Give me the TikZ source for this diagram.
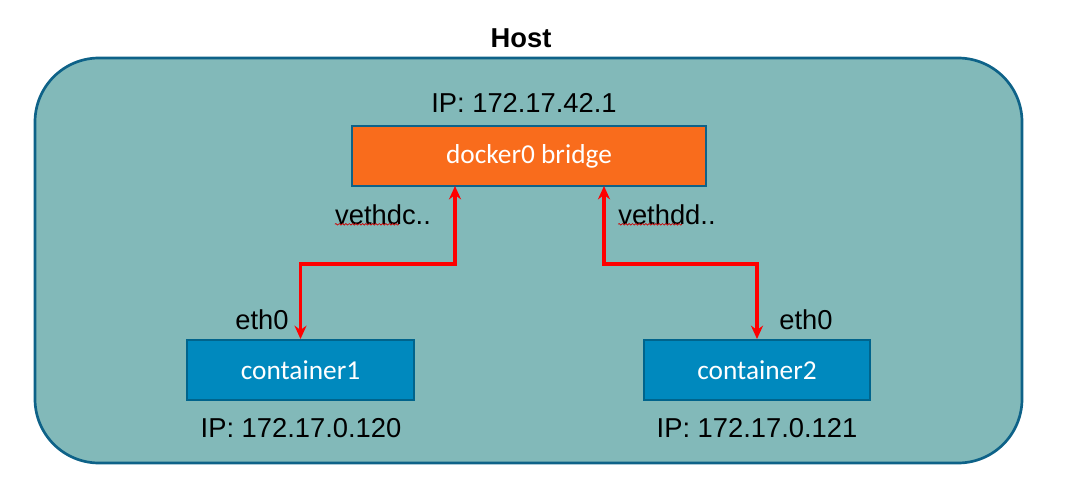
\documentclass[tikz,border=0pt]{standalone}
\usepackage{fontspec}
\setmainfont{Liberation Sans}
\newfontfamily\calfont{Carlito}
\usetikzlibrary{arrows.meta,decorations.pathmorphing}
\definecolor{hostfill}{RGB}{130,185,185}
\definecolor{hostline}{RGB}{14,98,136}
\definecolor{bridgefill}{RGB}{249,108,28}
\definecolor{boxfill}{RGB}{0,137,190}
\definecolor{boxline}{RGB}{0,100,140}
\tikzset{
  lbl/.style={font=\fontsize{20.5}{24}\selectfont,inner sep=0pt},
  netbox/.style={draw=boxline,line width=1.5pt,minimum width=170pt,minimum height=45pt,
    inner sep=0pt,text=white,font=\calfont\fontsize{20.5}{24}\selectfont},
  link/.style={draw=red,line width=2.6pt,{Stealth[length=10pt,width=9pt]}-{Stealth[length=10pt,width=9pt]}},
  spell/.style={red!80!black,line width=0.5pt,decorate,decoration={snake,amplitude=0.6pt,segment length=2.5pt}}
}
\begin{document}
\begin{tikzpicture}[x=0.75pt,y=-0.75pt]
    \useasboundingbox (0,0) rectangle (1069,478);
    % host
    \draw[hostline,line width=2pt,fill=hostfill,rounded corners=48pt] (35,58) rectangle (1022,463);
    \node[lbl,font=\bfseries\fontsize{20.5}{24}\selectfont] (host) at (521,38) {Host};
    % bridge and containers
    \node[netbox,fill=bridgefill,minimum width=265.5pt,draw=hostline] (bridge) at (529,156) {docker0 bridge};
    \node[netbox,fill=boxfill] (c1) at (300.5,370) {container1};
    \node[netbox,fill=boxfill] (c2) at (757,370) {container2};
    \node[lbl] (ipb) at (524,103) {IP: 172.17.42.1};
    \node[lbl] (ip1) at (301,428) {IP: 172.17.0.120};
    \node[lbl] (ip2) at (757,428) {IP: 172.17.0.121};
    \node[lbl] (e1) at (262,320) {eth0};
    \node[lbl] (e2) at (806,320) {eth0};
    \node[lbl] (v1) at (383,215) {vethdc..};
    \node[lbl] (v2) at (667,215) {vethdd..};
    \draw[spell] (v1.south west) ++(0,-1) -- ++(64,0);
    \draw[spell] (v2.south west) ++(0,-1) -- ++(64,0);
    % links
    \coordinate (bl) at (455,186);
    \coordinate (br) at (604,186);
    \coordinate (mid) at (0,264);
    \draw[link] (c1.north) |- (mid-|bl) -- (bl);
    \draw[link] (br) |- (mid-|c2) -- (c2.north);
\end{tikzpicture}
\end{document}
